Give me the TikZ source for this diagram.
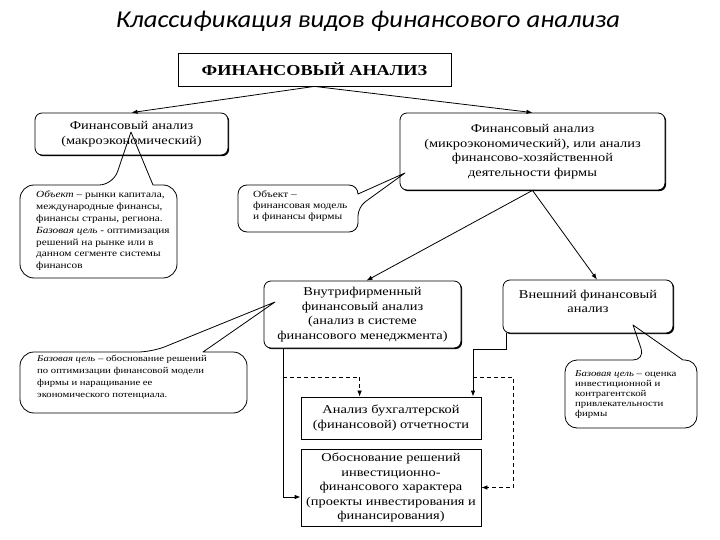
\documentclass[tikz,border=0pt]{standalone}
\usepackage{fontspec}
\setmainfont{Liberation Serif}[FakeStretch=1.2]
\newfontfamily\titlefont{Carlito}[FakeStretch=1.1]
\usetikzlibrary{arrows.meta,shadows,calc}
\tikzset{
  rbox/.style={draw, line width=0.8pt, fill=white, rounded corners=7pt, align=center,
    inner sep=0pt, drop shadow={shadow xshift=1.2pt, shadow yshift=-1.2pt, opacity=1, fill=black}},
  sbox/.style={draw, line width=0.8pt, fill=white, align=center, inner sep=0pt},
  boxfont/.style={font=\fontsize{12}{14.5}\selectfont},
  ctext/.style={align=left, anchor=north west, inner sep=0pt},
  callout/.style={draw, line width=0.8pt, line join=round},
  arr/.style={draw, line width=0.8pt, -{Latex[length=6pt,width=4.5pt]}},
  darr/.style={draw, line width=0.7pt, dash pattern=on 4pt off 3pt, -{Latex[length=6pt,width=4.5pt]}},
  conn/.style={draw, line width=0.8pt}
}
\begin{document}
\begin{tikzpicture}[x=1pt,y=-1pt]
\useasboundingbox (0,0) rectangle (720,540);

\node[font=\titlefont\itshape\fontsize{24.2}{28}\selectfont] (title) at (368,21) {Классификация видов финансового анализа};

\node[sbox, minimum width=273, minimum height=33, font=\bfseries\fontsize{15.2}{18}\selectfont,
  drop shadow={shadow xshift=1.2pt, shadow yshift=-1.2pt, opacity=1, fill=black}] (top) at (314.5,69.5) {ФИНАНСОВЫЙ АНАЛИЗ};

\node[rbox, boxfont, minimum width=193, minimum height=42] (macro) at (131.5,134) {Финансовый анализ\\(макроэкономический)};
\node[rbox, boxfont, minimum width=265, minimum height=77] (micro) at (532.5,151.5) {Финансовый анализ\\(микроэкономический), или анализ\\финансово-хозяйственной\\деятельности фирмы};
\node[rbox, boxfont, minimum width=197, minimum height=67] (inner) at (362.5,314.5) {Внутрифирменный\\финансовый анализ\\(анализ в системе\\финансового менеджмента)};
\node[rbox, minimum width=170, minimum height=53] (ext) at (588,306.5) {};
\node[boxfont, align=center, inner sep=0pt] (extT) at (588,301.5) {Внешний финансовый\\анализ};
\node[sbox, boxfont, minimum width=180, minimum height=42] (acc) at (391,418) {Анализ бухгалтерской\\(финансовой) отчетности};
\node[sbox, boxfont, minimum width=180, minimum height=77] (inv) at (391,487.5) {Обоснование решений\\инвестиционно-\\финансового характера\\(проекты инвестирования и\\финансирования)};

% connectors
\draw[arr] (top.south) -- (macro.north);
\draw[arr] (top.south) -- (micro.north);
\draw[arr] (micro.south) -- ($(inner.north)+(4,0)$);
\draw[arr] (micro.south) -- ($(ext.north)+(9,0)$);

\coordinate (a1) at (283,348);
\coordinate (a2) at (283,497);
\draw[arr] (a1) -- (a2) -- (a2 -| inv.west);
\coordinate (d1) at (283,377);
\draw[darr] (d1) -| ($(acc.north west)+(59,0)$);

\coordinate (b1) at (506,333);
\coordinate (b2) at (506,349);
\coordinate (b3) at (473,349);
\draw[arr] (b1) -- (b2) -- (b3) -- (b3 |- acc.north);
\coordinate (d2) at (473,377);
\coordinate (d3) at (513,377);
\draw[darr] (d2) -- (d3) |- (inv.east);

% callouts
\draw[callout] (113,185) [sharp corners] -- (131,132) -- (153,185) [rounded corners=14pt] -- (177,185) -- (177,278) -- (20,278) -- (20,185) -- cycle;
\node[ctext, font=\fontsize{9.4}{11.8}\selectfont] (c1t) at (36,191) {\textit{Объект} -- рынки капитала,\\международные финансы,\\финансы страны, региона.\\\textit{Базовая цель} - оптимизация\\решений на рынке или в\\данном сегменте системы\\финансов};

\draw[callout] (358,207) [sharp corners] -- (405,173) -- (358,194) [rounded corners=9pt] -- (358,185) -- (238,185) -- (238,232) -- (358,232) -- cycle;
\node[ctext, font=\fontsize{9.5}{11.5}\selectfont] (c2t) at (253,190) {Объект --\\финансовая модель\\и финансы фирмы};

\draw[callout] (152,352) [sharp corners] -- (275,302) -- (203,352) [rounded corners=14pt] -- (247,352) -- (247,413) -- (20,413) -- (20,352) -- cycle;
\node[ctext, font=\fontsize{8.9}{12}\selectfont] (c3t) at (37,355) {\textit{Базовая цель} -- обоснование решений\\по оптимизации финансовой модели\\фирмы и наращивание ее\\экономического потенциала.};

\draw[callout] (645,360) [sharp corners] -- (633,325) -- (683,360) [rounded corners=12pt] -- (697,360) -- (697,428) -- (565,428) -- (565,360) -- cycle;
\node[ctext, font=\fontsize{9}{10.2}\selectfont] (c4t) at (575,370) {\textit{Базовая цель} -- оценка\\инвестиционной и\\контрагентской\\привлекательности\\фирмы};
\end{tikzpicture}
\end{document}
